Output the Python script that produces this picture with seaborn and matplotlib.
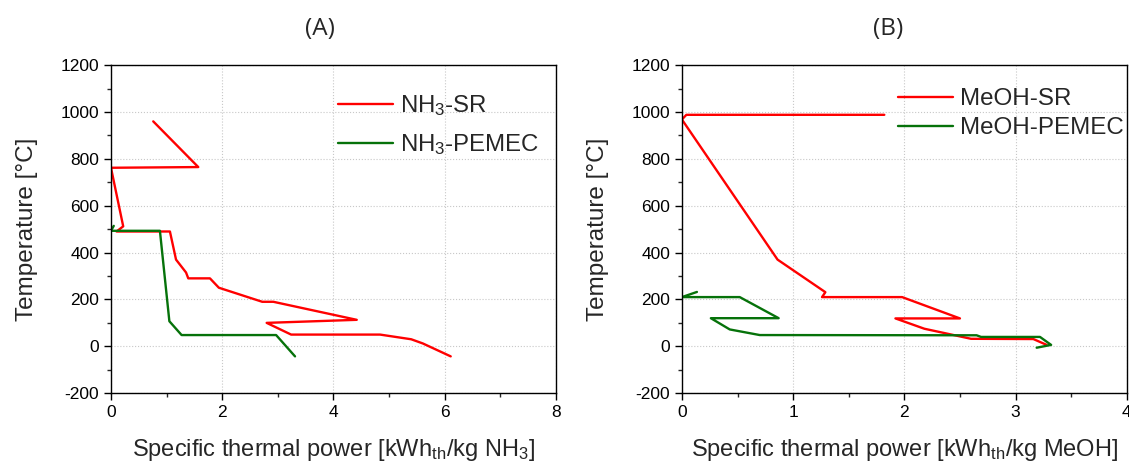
import matplotlib
matplotlib.use("Agg")
import matplotlib.pyplot as plt
from matplotlib.ticker import MultipleLocator
import pandas as pd
import seaborn as sns

# Curvas (A) amoniaco
nh3_sr_x = [0.76, 1.57, 0.0, 0.22, 0.10, 1.06, 1.17, 1.35, 1.39, 1.78, 1.94, 2.72, 2.92, 4.42, 2.80, 3.24, 4.84, 5.40, 5.61, 6.11]
nh3_sr_t = [960, 765, 762, 512, 490, 490, 370, 315, 290, 290, 250, 190, 190, 113, 100, 50, 50, 30, 12, -43]
nh3_pemec_x = [0.05, 0.0, 0.88, 1.05, 1.27, 2.97, 3.31]
nh3_pemec_t = [514, 493, 493, 107, 48, 48, -43]

# Curvas (B) metanol
meoh_sr_x = [1.82, 0.04, 0.0, 0.86, 1.29, 1.26, 1.98, 2.50, 1.92, 2.18, 2.60, 3.16, 3.28]
meoh_sr_t = [988, 988, 968, 370, 231, 210, 210, 119, 119, 75, 32, 31, 6]
meoh_pemec_x = [0.135, 0.0, 0.52, 0.87, 0.26, 0.43, 0.70, 2.65, 2.69, 3.22, 3.32, 3.19]
meoh_pemec_t = [232, 210, 210, 120, 120, 72, 48, 47, 40, 40, 6, -6]

sns.set_style("ticks")
plt.rcParams['font.family'] = ['Liberation Sans', 'DejaVu Sans']
plt.rcParams['mathtext.default'] = 'regular'
plt.rcParams['axes.unicode_minus'] = False

RED = '#ff0000'
GREEN = '#06720a'

fig = plt.figure(figsize=(11.29, 4.62), dpi=100)
axA = fig.add_axes([0.0983, 0.149, 0.394, 0.710])
axB = fig.add_axes([0.604, 0.149, 0.394, 0.710])


def curva(ax, x, t, color, label):
    df = pd.DataFrame({'x': x, 't': t})
    sns.lineplot(data=df, x='x', y='t', sort=False, estimator=None, color=color,
                 linewidth=1.7, label=label, ax=ax)


curva(axA, nh3_sr_x, nh3_sr_t, RED, 'NH$_3$-SR')
curva(axA, nh3_pemec_x, nh3_pemec_t, GREEN, 'NH$_3$-PEMEC')
curva(axB, meoh_sr_x, meoh_sr_t, RED, 'MeOH-SR')
curva(axB, meoh_pemec_x, meoh_pemec_t, GREEN, 'MeOH-PEMEC')

for ax, xmax, xmaj, xmin in [(axA, 8, 2, 1), (axB, 4, 1, 0.5)]:
    ax.set_xlim(0, xmax)
    ax.set_ylim(-200, 1200)
    ax.xaxis.set_major_locator(MultipleLocator(xmaj))
    ax.xaxis.set_minor_locator(MultipleLocator(xmin))
    ax.yaxis.set_major_locator(MultipleLocator(200))
    ax.yaxis.set_minor_locator(MultipleLocator(100))
    ax.grid(True, which='major', color='#c8c8c8', linestyle=':', linewidth=0.8)
    ax.tick_params(which='major', direction='out', length=5, width=1, labelsize=12.5, colors='black')
    ax.tick_params(which='minor', direction='out', length=3, width=1)
    for s in ax.spines.values():
        s.set_color('black')
        s.set_linewidth(1)
    ax.set_ylabel('Temperature [°C]', fontsize=17.5)
    ax.yaxis.set_label_coords(-0.165, 0.5)

axA.set_xlabel('Specific thermal power [kWh$_{th}$/kg NH$_3$]', fontsize=17, labelpad=12)
axB.set_xlabel('Specific thermal power [kWh$_{th}$/kg MeOH]', fontsize=17, labelpad=12)

axA.set_title('(A)', fontsize=17.5, family='Open Sans', pad=22, x=0.47)
axB.set_title('(B)', fontsize=17.5, family='Open Sans', pad=22, x=0.463)

axA.legend(loc='upper left', bbox_to_anchor=(0.51, 0.915), frameon=False, fontsize=17.3,
           handlelength=2.3, handletextpad=0.3, labelspacing=0.6, borderpad=0, borderaxespad=0)
axB.legend(loc='upper left', bbox_to_anchor=(0.485, 0.93), frameon=False, fontsize=17.4,
           handlelength=2.3, handletextpad=0.3, labelspacing=0.3, borderpad=0, borderaxespad=0)

fig.savefig('out.png', dpi=100)
